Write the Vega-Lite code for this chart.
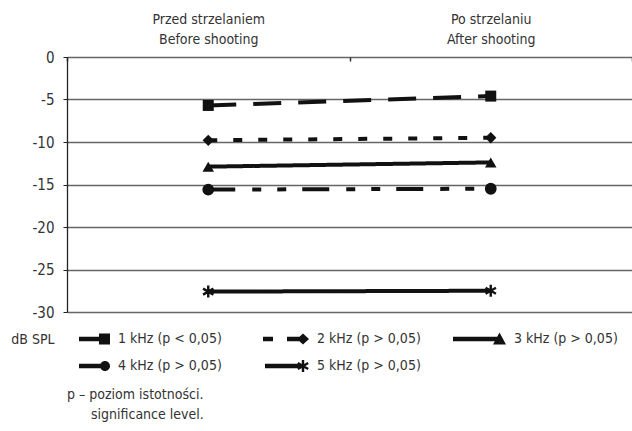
{
  "$schema": "https://vega.github.io/schema/vega-lite/v6.json",
  "width": 565,
  "height": 255,
  "autosize": "none",
  "padding": {"left": 67, "top": 57, "right": 0, "bottom": 119},
  "background": "white",
  "config": {
    "view": {"stroke": null},
    "font": "DejaVu Sans Condensed",
    "legend": {"padding": 0}
  },
  "title": {
    "text": ["p – poziom istotności.", "\u200b\u00a0\u00a0\u00a0\u00a0\u00a0\u00a0significance level."],
    "orient": "bottom",
    "anchor": "start",
    "frame": "group",
    "offset": 15,
    "fontSize": 14,
    "fontWeight": "normal",
    "color": "#333",
    "lineHeight": 20,
    "font": "DejaVu Sans Condensed"
  },
  "data": {
    "values": [
      {"freq": "1 kHz (p < 0,05)", "phase": "Przed strzelaniem\nBefore shooting", "value": -5.7},
      {"freq": "1 kHz (p < 0,05)", "phase": "Po strzelaniu\nAfter shooting", "value": -4.6},
      {"freq": "2 kHz (p > 0,05)", "phase": "Przed strzelaniem\nBefore shooting", "value": -9.8},
      {"freq": "2 kHz (p > 0,05)", "phase": "Po strzelaniu\nAfter shooting", "value": -9.5},
      {"freq": "3 kHz (p > 0,05)", "phase": "Przed strzelaniem\nBefore shooting", "value": -12.9},
      {"freq": "3 kHz (p > 0,05)", "phase": "Po strzelaniu\nAfter shooting", "value": -12.4},
      {"freq": "4 kHz (p > 0,05)", "phase": "Przed strzelaniem\nBefore shooting", "value": -15.6},
      {"freq": "4 kHz (p > 0,05)", "phase": "Po strzelaniu\nAfter shooting", "value": -15.5},
      {"freq": "5 kHz (p > 0,05)", "phase": "Przed strzelaniem\nBefore shooting", "value": -27.6},
      {"freq": "5 kHz (p > 0,05)", "phase": "Po strzelaniu\nAfter shooting", "value": -27.5}
    ]
  },
  "encoding": {
    "x": {
      "field": "phase",
      "type": "nominal",
      "sort": ["Przed strzelaniem\nBefore shooting", "Po strzelaniu\nAfter shooting"],
      "scale": {"type": "band", "paddingInner": 0, "paddingOuter": 0},
      "axis": {
        "orient": "top",
        "title": null,
        "domain": false,
        "ticks": true,
        "tickBand": "extent",
        "tickSize": -4,
        "tickColor": "#333",
        "tickWidth": 1.5,
        "labelAngle": 0,
        "labelExpr": "split(datum.label, '\\n')",
        "labelLineHeight": 20,
        "labelPadding": 35,
        "labelFontSize": 14,
        "labelColor": "#333",
        "grid": false
      }
    },
    "y": {
      "field": "value",
      "type": "quantitative",
      "scale": {"domain": [-30, 0], "nice": false, "zero": false},
      "axis": {
        "values": [0, -5, -10, -15, -20, -25, -30],
        "labelExpr": "datum.value + ''",
        "title": "dB SPL",
        "titleAngle": 0,
        "titleAlign": "right",
        "titleBaseline": "middle",
        "titleX": -13,
        "titleY": 282,
        "titleFontSize": 14,
        "titleFontWeight": "normal",
        "titleColor": "#333",
        "grid": true,
        "gridColor": "#666",
        "gridWidth": 1.3,
        "domainColor": "#222",
        "domainWidth": 1.3,
        "tickColor": "#222",
        "tickSize": 4,
        "labelPadding": 9,
        "labelFontSize": 15,
        "labelColor": "#333"
      }
    }
  },
  "layer": [
    {
      "mark": {"type": "line", "strokeWidth": 4, "color": "#111", "strokeCap": "butt"},
      "encoding": {
        "detail": {"field": "freq"},
        "strokeDash": {
          "field": "freq",
          "type": "nominal",
          "scale": {
            "domain": ["1 kHz (p < 0,05)", "2 kHz (p > 0,05)", "3 kHz (p > 0,05)", "4 kHz (p > 0,05)", "5 kHz (p > 0,05)"],
            "range": [[28, 17], [9, 16], [1, 0], [27, 17, 9, 16, 9, 16], [1, 0]]
          },
          "legend": null
        }
      }
    },
    {
      "mark": {"type": "point", "filled": true, "color": "#111", "opacity": 1, "strokeWidth": 0},
      "encoding": {
        "shape": {
          "field": "freq",
          "type": "nominal",
          "scale": {
            "domain": ["1 kHz (p < 0,05)", "2 kHz (p > 0,05)", "3 kHz (p > 0,05)", "4 kHz (p > 0,05)", "5 kHz (p > 0,05)"],
            "range": ["square", "diamond", "triangle-up", "circle", "M-0.2,-1L0.2,-1L0.2,1L-0.2,1ZM0.966,0.327L0.766,0.673L-0.966,-0.327L-0.766,-0.673ZM0.766,-0.673L0.966,-0.327L-0.766,0.673L-0.966,0.327Z"]
          },
          "legend": null
        },
        "size": {
          "field": "freq",
          "type": "nominal",
          "scale": {
            "domain": ["1 kHz (p < 0,05)", "2 kHz (p > 0,05)", "3 kHz (p > 0,05)", "4 kHz (p > 0,05)", "5 kHz (p > 0,05)"],
            "range": [121, 144, 160, 100, 144]
          },
          "legend": null
        }
      }
    },
    {
      "mark": {"type": "point", "filled": true, "color": "#111", "opacity": 0},
      "encoding": {
        "shape": {
          "field": "freq",
          "type": "nominal",
          "scale": {
            "domain": ["1 kHz (p < 0,05)", "2 kHz (p > 0,05)", "3 kHz (p > 0,05)", "4 kHz (p > 0,05)", "5 kHz (p > 0,05)"],
            "range": [
              "M-2.1,-0.22L0.2,-0.22L0.2,0.22L-2.1,0.22ZM-0.1,-0.55L1,-0.55L1,0.55L-0.1,0.55Z",
              "M-4.5,0L-4.5,0ZM-3.6,-0.22L-2.6,-0.22L-2.6,0.22L-3.6,0.22ZM-1.2,-0.22L0.3,-0.22L0.3,0.22L-1.2,0.22ZM-0.2,0L0.4,-0.54L1,0L0.4,0.54Z",
              "M-4.3,-0.22L0.3,-0.22L0.3,0.22L-4.3,0.22ZM0.35,-0.65L1,0.54L-0.3,0.54Z",
              "M-2.1,-0.22L0.3,-0.22L0.3,0.22L-2.1,0.22ZM0,0A0.5,0.5 0 1,1 1,0A0.5,0.5 0 1,1 0,0Z",
              "M-4.5,0L-4.5,0ZM-3.4,-0.22L0.3,-0.22L0.3,0.22L-3.4,0.22ZM0.28,-0.6L0.52,-0.6L0.52,0.6L0.28,0.6ZM0.98,0.196L0.86,0.404L-0.18,-0.196L-0.06,-0.404ZM0.86,-0.404L0.98,-0.196L-0.06,0.404L-0.18,0.196Z"
            ]
          },
          "legend": {
            "title": null,
            "orient": "none",
            "legendX": 23,
            "legendY": 272,
            "columns": 3,
            "direction": "horizontal",
            "symbolSize": 400,
            "symbolFillColor": "#111",
            "symbolStrokeColor": "#111",
            "symbolStrokeWidth": 0,
            "symbolOpacity": 1,
            "labelOffset": 8,
            "labelFontSize": 14,
            "labelColor": "#333",
            "labelLimit": 300,
            "columnPadding": 32,
            "rowPadding": 10
          }
        }
      }
    }
  ],
  "resolve": {"scale": {"shape": "independent"}, "legend": {"shape": "independent"}}
}
